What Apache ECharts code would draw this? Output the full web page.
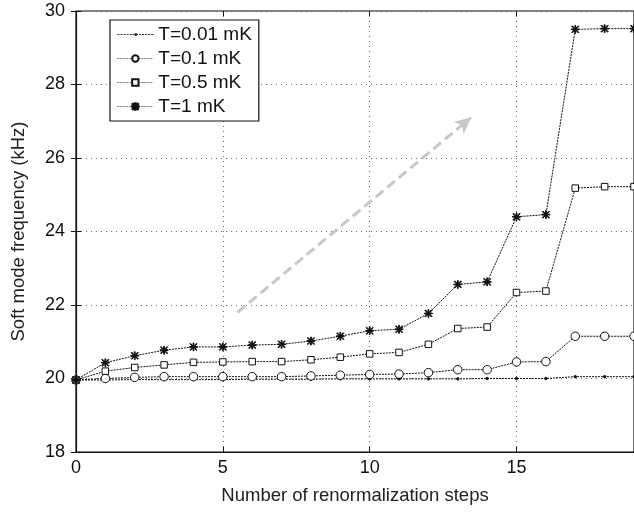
<!DOCTYPE html>
<html>
<head>
<meta charset="utf-8">
<script src="https://cdn.jsdelivr.net/npm/echarts@6/dist/echarts.min.js"></script>
<style>
html,body{margin:0;padding:0;background:#fff;}
#main{width:634px;height:515px;}
</style>
</head>
<body>
<div id="main"></div>
<script>
// renormalization steps
var steps = [0,1,2,3,4,5,6,7,8,9,10,11,12,13,14,15,16,17,18,19];
// soft mode frequency (kHz) per temperature
var t001 = [19.96,19.96,19.97,19.97,19.97,19.97,19.98,19.98,19.98,19.99,19.99,19.99,19.99,19.99,20.0,20.0,20.0,20.05,20.05,20.05];
var t01  = [19.96,20.0,20.03,20.05,20.05,20.05,20.05,20.05,20.07,20.09,20.11,20.12,20.16,20.24,20.24,20.45,20.46,21.15,21.15,21.15];
var t05  = [19.96,20.2,20.3,20.37,20.44,20.45,20.46,20.46,20.51,20.58,20.67,20.71,20.93,21.36,21.4,22.34,22.38,25.18,25.22,25.22];
var t1   = [19.96,20.43,20.62,20.77,20.86,20.86,20.91,20.93,21.02,21.15,21.3,21.34,21.77,22.56,22.63,24.4,24.46,29.5,29.52,29.52];
var names = ['T=0.01 mK','T=0.1 mK','T=0.5 mK','T=1 mK'];
// gray trend arrow (data coords)
var arrowFrom = [5.5, 21.8];
var arrowTo = [13.45, 27.1];

var star = 'path://M4.5,0L5.5,0L5.5,10L4.5,10Z M0,4.5L10,4.5L10,5.5L0,5.5Z M1.2,0.5L9.5,8.8L8.8,9.5L0.5,1.2Z M8.8,0.5L9.5,1.2L1.2,9.5L0.5,8.8Z';

// legend icon for the dot series: dotted line with a small dot
function dotIcon(){
    var p='path://';
    for(var i=0;i<36;i+=3){
        p+='M'+i+',1.1L'+(i+2)+',1.1L'+(i+2)+',1.9L'+i+',1.9Z ';
    }
    p+='M16.5,1.5A1.5,1.5 0 1 1 19.5,1.5A1.5,1.5 0 1 1 16.5,1.5Z';
    return p;
}

function pairs(ys){
    var out=[];
    for(var i=0;i<steps.length;i++){
        out.push([steps[i],ys[i]]);
    }
    return out;
}

var font = 'Liberation Sans';
var lineSt = {color:'#111',width:1,type:[2,1]};

function mk(name,ys,symbol,size,fill){
    return {
        name:name,
        type:'line',
        data:pairs(ys),
        symbol:symbol,
        symbolSize:size,
        showAllSymbol:true,
        lineStyle:lineSt,
        itemStyle:{color:fill,borderColor:'#111',borderWidth:1},
        emphasis:{disabled:true},
        animation:false,
        z:3
    };
}

var myChart = echarts.init(document.getElementById('main'));
var option = {
    animation:false,
    textStyle:{fontFamily:font},
    grid:{left:76,top:11,right:-1,bottom:63,show:true,borderColor:'#111',borderWidth:1.2},
    legend:{
        orient:'vertical',
        left:110,
        top:20,
        padding:[5,7,5,7],
        itemGap:5,
        itemWidth:36,
        itemHeight:8,
        backgroundColor:'#fff',
        borderColor:'#111',
        borderWidth:1.2,
        borderRadius:0,
        lineStyle:{width:0.7,type:[2,1],color:'#333'},
        textStyle:{fontFamily:font,fontSize:19,color:'#111'},
        data:[
            {name:names[0],icon:dotIcon(),itemStyle:{color:'#333',borderWidth:0}},
            names[1],names[2],names[3]
        ]
    },
    xAxis:[{
        type:'value',min:0,max:19,interval:5,
        name:'Number of renormalization steps',
        nameLocation:'middle',nameGap:34,
        nameTextStyle:{fontFamily:font,fontSize:18.5,color:'#222'},
        axisLine:{lineStyle:{color:'#111',width:1.2}},
        axisTick:{inside:true,length:5,lineStyle:{color:'#111'}},
        axisLabel:{fontFamily:font,fontSize:18,color:'#111',margin:7,showMaxLabel:false},
        splitLine:{show:true,lineStyle:{color:'#666',type:[1,4],width:1}}
    },{
        type:'value',min:0,max:19,interval:5,position:'top',
        axisLine:{show:false},
        axisTick:{inside:true,length:5,lineStyle:{color:'#111'}},
        axisLabel:{show:false},splitLine:{show:false}
    }],
    yAxis:[{
        type:'value',min:18,max:30,interval:2,
        name:'Soft mode frequency (kHz)',
        nameLocation:'middle',nameGap:48,
        nameTextStyle:{fontFamily:font,fontSize:18.5,color:'#222'},
        axisLine:{show:true,lineStyle:{color:'#111',width:1.2}},
        axisTick:{show:true,inside:true,length:5,lineStyle:{color:'#111'}},
        axisLabel:{fontFamily:font,fontSize:18,color:'#111',margin:11},
        splitLine:{show:true,lineStyle:{color:'#666',type:[1,4],width:1}}
    },{
        type:'value',min:18,max:30,interval:2,position:'right',
        axisLine:{show:false},
        axisTick:{show:true,inside:true,length:5,lineStyle:{color:'#111'}},
        axisLabel:{show:false},splitLine:{show:false}
    }],
    series:[
        mk(names[0],t001,'circle',2.5,'#111'),
        mk(names[1],t01,'circle',8.5,'#fff'),
        mk(names[2],t05,'rect',6.5,'#fff'),
        mk(names[3],t1,star,8,'#111'),
        {
            type:'line',data:[],silent:true,
            markLine:{
                silent:true,animation:false,
                symbol:['none','arrow'],symbolSize:[12,16],
                label:{show:false},
                lineStyle:{color:'#c8c8c8',width:3,type:[10,5]},
                data:[[{coord:arrowFrom},{coord:arrowTo}]]
            }
        }
    ]
};
myChart.setOption(option);
</script>
</body>
</html>
